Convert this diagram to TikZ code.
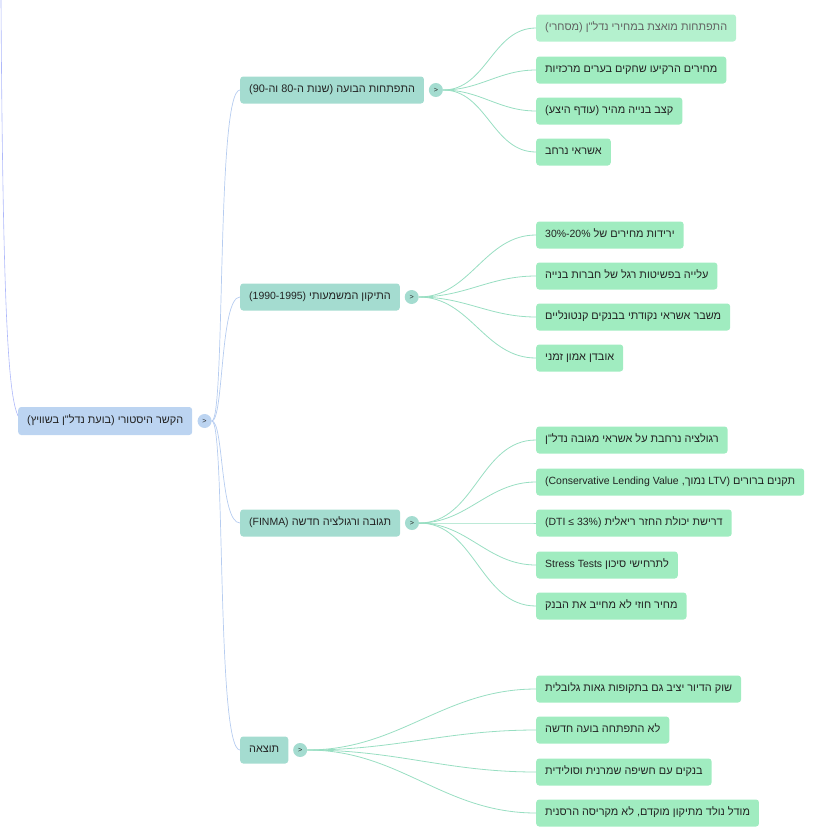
\documentclass[tikz,border=0pt]{standalone}
\usepackage{fontspec}
\newfontfamily\hefont[Script=Hebrew]{Liberation Sans}
\newfontfamily\lafont[Scale=0.96]{Liberation Sans}
\TeXXeTstate=1
\usetikzlibrary{positioning}
\definecolor{rootblue}{RGB}{188,212,241}
\definecolor{branchteal}{RGB}{164,220,208}
\definecolor{leafgreen}{RGB}{160,236,192}
\definecolor{leafpale}{RGB}{180,241,206}
\definecolor{textgray}{RGB}{34,34,34}
\definecolor{rootline}{RGB}{182,204,240}
\definecolor{leafline}{RGB}{152,222,194}
\definecolor{topline}{RGB}{174,184,250}
\newcommand{\heb}[1]{\hefont\beginR #1\endR}
\newcommand{\lat}[1]{\beginL{\lafont #1}\endL{}}

\begin{document}
\begin{tikzpicture}[x=1pt,y=-1pt,
    box/.style={rounded corners=3pt, anchor=west, inner xsep=9pt, inner ysep=0pt,
      minimum height=27pt, text height=8pt, text depth=2.5pt,
      font=\fontsize{10.9}{12}\selectfont, text=textgray},
    rootbox/.style={box, fill=rootblue, minimum height=28pt},
    branch/.style={box, fill=branchteal},
    leaf/.style={box, fill=leafgreen},
    toggle/.style={circle, fill=#1, minimum size=14pt, inner sep=0pt,
      font=\lafont\fontsize{7.5}{7.5}\selectfont, text=textgray},
    rootedge/.style={draw=rootline, line width=0.7pt},
    leafedge/.style={draw=leafline, line width=0.8pt},
    topedge/.style={draw=topline, line width=0.6pt}]
\useasboundingbox (0,0) rectangle (840,833);

% root
\node[rootbox] at (18,421) (root) {\heb{הקשר היסטורי (בועת נדל"ן בשוויץ)}};
\node[toggle=rootblue, right=5pt of root] (rt) {>};
\coordinate (up) at (1,0);
\draw[topedge] (up) .. controls (3,330) and (9,395) .. ([yshift=5pt]root.west);

% branches
\node[branch] at (240,90) (b1) {\heb{התפתחות הבועה (שנות ה-80 וה-90)}};
\node[branch] at (240,297) (b2) {\heb{התיקון המשמעותי \lat{(1990-1995)}}};
\node[branch] at (240,523) (b3) {\heb{תגובה ורגולציה חדשה \lat{(FINMA)}}};
\node[branch] at (240,750) (b4) {\heb{תוצאה}};
\node[toggle=branchteal, right=4.5pt of b1] (t1) {>};
\node[toggle=branchteal, right=4.5pt of b2] (t2) {>};
\node[toggle=branchteal, right=4.5pt of b3] (t3) {>};
\node[toggle=branchteal, right=4.5pt of b4] (t4) {>};

\draw[rootedge] (rt.east) .. controls +(14,0) and +(-24,0) .. (b1.west);
\draw[rootedge] (rt.east) .. controls +(12,0) and +(-20,0) .. (b2.west);
\draw[rootedge] (rt.east) .. controls +(12,0) and +(-20,0) .. (b3.west);
\draw[rootedge] (rt.east) .. controls +(14,0) and +(-24,0) .. (b4.west);

% leaves
\node[leaf, fill=leafpale, text=black!62] at (536,28) (l11) {\heb{התפתחות מואצת במחירי נדל"ן (מסחרי)}};
\node[leaf] at (536,70) (l12) {\heb{מחירים הרקיעו שחקים בערים מרכזיות}};
\node[leaf] at (536,111) (l13) {\heb{קצב בנייה מהיר (עודף היצע)}};
\node[leaf] at (536,152) (l14) {\heb{אשראי נרחב}};

\node[leaf] at (536,235) (l21) {\heb{ירידות מחירים של \lat{30\%-20\%}}};
\node[leaf] at (536,276) (l22) {\heb{עלייה בפשיטות רגל של חברות בנייה}};
\node[leaf] at (536,317) (l23) {\heb{משבר אשראי נקודתי בבנקים קנטונליים}};
\node[leaf] at (536,358) (l24) {\heb{אובדן אמון זמני}};

\node[leaf] at (536,440) (l31) {\heb{רגולציה נרחבת על אשראי מגובה נדל"ן}};
\node[leaf] at (536,482) (l32) {\heb{תקנים ברורים \lat{LTV)} נמוך, \lat{(Conservative Lending Value}}};
\node[leaf] at (536,523) (l33) {\heb{דרישת יכולת החזר ריאלית \lat{(DTI ≤ 33\%)}}};
\node[leaf] at (536,565) (l34) {\heb{לתרחישי סיכון \lat{Stress Tests}}};
\node[leaf] at (536,606) (l35) {\heb{מחיר חוזי לא מחייב את הבנק}};

\node[leaf] at (536,689) (l41) {\heb{שוק הדיור יציב גם בתקופות גאות גלובלית}};
\node[leaf] at (536,730) (l42) {\heb{לא התפתחה בועה חדשה}};
\node[leaf] at (536,772) (l43) {\heb{בנקים עם חשיפה שמרנית וסולידית}};
\node[leaf] at (536,813) (l44) {\heb{מודל נולד מתיקון מוקדם, לא מקריסה הרסנית}};

\path[leafedge] (t1.east) edge[out=0,in=180] (l11.west);
\path[leafedge] (t1.east) edge[out=0,in=180] (l12.west);
\path[leafedge] (t1.east) edge[out=0,in=180] (l13.west);
\path[leafedge] (t1.east) edge[out=0,in=180] (l14.west);
\path[leafedge] (t2.east) edge[out=0,in=180] (l21.west);
\path[leafedge] (t2.east) edge[out=0,in=180] (l22.west);
\path[leafedge] (t2.east) edge[out=0,in=180] (l23.west);
\path[leafedge] (t2.east) edge[out=0,in=180] (l24.west);
\path[leafedge] (t3.east) edge[out=0,in=180] (l31.west);
\path[leafedge] (t3.east) edge[out=0,in=180] (l32.west);
\path[leafedge] (t3.east) edge[out=0,in=180] (l33.west);
\path[leafedge] (t3.east) edge[out=0,in=180] (l34.west);
\path[leafedge] (t3.east) edge[out=0,in=180] (l35.west);
\path[leafedge] (t4.east) edge[out=0,in=180] (l41.west);
\path[leafedge] (t4.east) edge[out=0,in=180] (l42.west);
\path[leafedge] (t4.east) edge[out=0,in=180] (l43.west);
\path[leafedge] (t4.east) edge[out=0,in=180] (l44.west);
\end{tikzpicture}
\end{document}
